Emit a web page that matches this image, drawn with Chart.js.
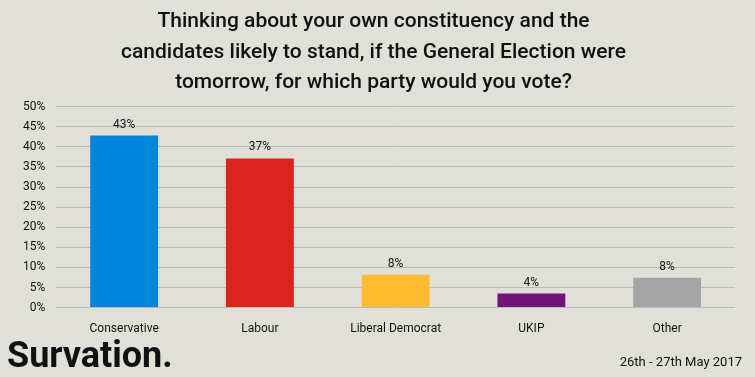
<!DOCTYPE html>
<html>
<head>
<meta charset="utf-8">
<script src="https://cdn.jsdelivr.net/npm/chart.js@4/dist/chart.umd.min.js"></script>
<style>
  html, body { margin: 0; padding: 0; background: #E0E0D8; }
  #wrap { width: 755px; height: 377px; position: relative; }
</style>
</head>
<body>
<div id="wrap"><canvas id="myChart" width="755" height="377"></canvas></div>
<script>
// data
const parties = ['Conservative', 'Labour', 'Liberal Democrat', 'UKIP', 'Other']
const shares = [42.8, 37.1, 8.2, 3.5, 7.4]
const shareLabels = ['43%', '37%', '8%', '4%', '8%']
const partyColours = ['#0087DC', '#DC241F', '#FDBB30', '#70147A', '#A5A5A5']
const titleLines = [
  'Thinking about your own constituency and the',
  'candidates likely to stand, if the General Election were',
  'tomorrow, for which party would you vote?'
]
const fieldDates = '26th - 27th May 2017'

const FONT = 'Roboto, "DejaVu Sans", sans-serif'

// labels above bars + footer bits
const extras = {
  id: 'extras',
  afterDatasetsDraw(chart) {
    const ctx = chart.ctx
    const meta = chart.getDatasetMeta(0)
    ctx.save()
    ctx.fillStyle = '#111'
    ctx.font = '12px ' + FONT
    ctx.textAlign = 'center'
    ctx.textBaseline = 'bottom'
    meta.data.forEach((bar, i) => {
      ctx.fillText(shareLabels[i], bar.x, bar.y - 5)
    })
    ctx.restore()
  },
  afterDraw(chart) {
    const ctx = chart.ctx
    ctx.save()
    ctx.fillStyle = '#111'
    ctx.font = 'bold 36px ' + FONT
    ctx.textAlign = 'left'
    ctx.textBaseline = 'alphabetic'
    ctx.fillText('Survation.', 7, 367)
    ctx.font = '13px ' + FONT
    ctx.textAlign = 'right'
    ctx.fillText(fieldDates, 742, 366)
    ctx.restore()
  }
}

const ctx = document.getElementById('myChart').getContext('2d')
const Graph = new Chart(ctx, {
  type: 'bar',
  data: {
    labels: parties,
    datasets: [{
      data: shares,
      backgroundColor: partyColours,
      borderWidth: 0,
      barPercentage: 0.5,
      categoryPercentage: 1.0
    }]
  },
  options: {
    responsive: false,
    animation: false,
    layout: { padding: { left: 12, right: 20, top: 0, bottom: 35 } },
    plugins: {
      legend: { display: false },
      tooltip: { enabled: false },
      title: {
        display: true,
        text: titleLines,
        color: '#111',
        font: { family: FONT, size: 21, weight: '500', lineHeight: 1.47 },
        padding: { top: 6, bottom: 8 }
      }
    },
    scales: {
      x: {
        grid: { display: false },
        border: { display: false },
        ticks: { color: '#111', font: { family: FONT, size: 12 }, padding: 6 }
      },
      y: {
        min: 0,
        max: 50,
        grid: { color: '#BBBBB5', lineWidth: 1, drawTicks: false },
        border: { display: false },
        ticks: {
          stepSize: 5,
          color: '#111',
          padding: 11,
          font: { family: FONT, size: 12 },
          callback: v => v + '%'
        }
      }
    }
  },
  plugins: [extras]
})
</script>
</body>
</html>
